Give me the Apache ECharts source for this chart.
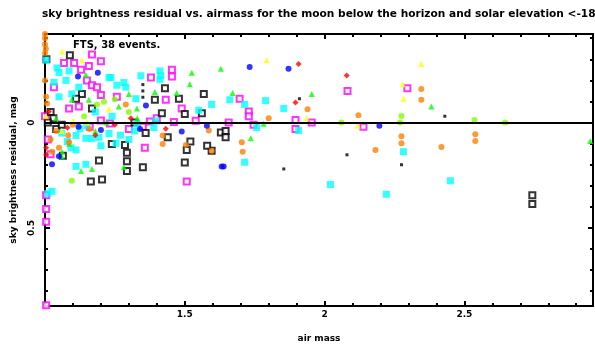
<!DOCTYPE html>
<html>
<head>
<meta charset="utf-8">
<script src="https://cdn.jsdelivr.net/npm/echarts@6/dist/echarts.min.js"></script>
<style>
html,body{margin:0;padding:0;background:#fff;}
#main{width:595px;height:348px;}
</style>
</head>
<body>
<div id="main"></div>
<script>
// tick positions and labels
var xMajor = [1.5, 2, 2.5];
var xMinor = [1.1, 1.2, 1.3, 1.4, 1.6, 1.7, 1.8, 1.9, 2.1, 2.2, 2.3, 2.4, 2.6, 2.7, 2.8, 2.9];
var yMajor = [0, 0.5];
var yMinor = [-0.4, -0.3, -0.2, -0.1, 0.1, 0.2, 0.3, 0.4, 0.6, 0.7, 0.8];

// airmass / residual (mag), one array per event colour
var magentaPts = [[1.454,-0.25],[1.454,-0.218],[1.432,-0.108],[1.489,-0.067],[1.539,-0.008],[1.461,-0.003],[1.657,0],[1.696,-0.113],[1.729,-0.053],[1.729,-0.03],[1.746,0.01],[1.896,-0.012],[1.954,0],[1.896,0.03],[2.082,-0.15],[2.296,-0.163],[2.139,0.02],[1.357,0.12],[1.507,0.28],[1.379,-0.214],[1.004,0.345],[1.004,0.41],[1.004,0.47],[1.004,0.867],[1.168,-0.323],[1.2,-0.291],[1.068,-0.282],[1.104,-0.282],[1.157,-0.268],[1.129,-0.25],[1.15,-0.2],[1.168,-0.177],[1.032,-0.168],[1.186,-0.168],[1.2,-0.131],[1.257,-0.122],[1.121,-0.076],[1.086,-0.067],[1.375,-0.005],[1.2,-0.01],[1.232,0.005],[1.0,-0.03],[1.01,0.08],[1.3,0.03],[1.35,0.02],[1.16,0.02],[1.02,0.15],[1.4,-0.02]];
var blackPts = [[1.429,-0.163],[1.479,-0.113],[1.568,-0.136],[1.393,-0.108],[1.418,-0.044],[1.5,-0.04],[1.561,-0.044],[1.629,0.047],[1.439,0.07],[1.507,0.13],[1.596,0.134],[1.646,0.04],[1.646,0.07],[1.5,0.189],[1.35,0.212],[1.293,0.23],[1.293,0.184],[1.293,0.143],[1.164,0.28],[1.204,0.27],[1.193,0.18],[1.239,0.102],[1.286,0.107],[1.089,-0.319],[1.132,-0.136],[1.111,-0.113],[1.168,-0.067],[2.743,0.345],[2.743,0.386],[1.064,0.157],[1.02,-0.05],[1.03,-0.02],[1.01,0.0],[1.04,0.03],[1.06,0.01],[1.005,-0.3],[1.36,0.05],[1.52,0.09],[1.58,0.11],[1.32,0.0]];
var blackDots = [[2.43,-0.03],[2.08,0.153],[2.275,0.2],[1.91,-0.113],[1.854,0.22],[1.35,-0.18],[1.35,-0.12],[1.35,-0.15]];
var cyanPts = [[1.411,-0.245],[1.411,-0.205],[1.389,0.024],[1.55,-0.058],[1.596,-0.086],[1.661,-0.108],[1.714,-0.086],[1.789,-0.104],[1.854,-0.067],[1.757,0.024],[1.907,0.038],[1.714,0.188],[2.021,0.294],[2.282,0.138],[2.45,0.276],[2.221,0.34],[1.282,-0.19],[1.343,-0.222],[1.414,-0.222],[1.289,-0.168],[1.325,-0.113],[1.329,0.006],[1.396,-0.008],[1.229,-0.214],[1.043,-0.259],[1.086,-0.245],[1.236,-0.213],[1.032,-0.191],[1.075,-0.2],[1.121,-0.168],[1.257,-0.177],[1.096,-0.136],[1.05,-0.122],[1.004,-0.296],[1.05,-0.237],[1.111,0.208],[1.146,0.198],[1.025,0.326],[1.01,0.336],[1.111,0.061],[1.146,0.075],[1.168,0.075],[1.193,0.07],[1.229,0.052],[1.093,0.12],[1.111,0.13],[1.254,0.098],[1.125,0.03],[1.15,0.015],[1.27,0.06],[1.3,0.08],[1.32,0.04],[1.2,0.11],[1.08,0.09],[1.18,-0.05],[1.24,-0.03],[1.06,0.05]];
var greenPts = [[1.525,-0.236],[1.629,-0.255],[1.518,-0.182],[1.471,-0.14],[1.393,-0.145],[1.671,-0.14],[1.954,-0.136],[1.782,0.006],[1.736,0.074],[2.382,-0.076],[2.95,0.088],[1.146,-0.227],[1.157,-0.108],[1.096,-0.108],[1.264,-0.076],[1.3,-0.136],[1.329,-0.067],[1.168,0.22],[1.129,0.23],[1.282,0.212],[1.061,0.138],[1.087,0.1],[1.22,0.0],[1.04,-0.02],[1.33,-0.02],[1.18,0.04],[1.06,0.16]];
var limePts = [[2.06,0],[2.275,-0.031],[2.27,0],[2.536,-0.012],[2.646,0],[1.211,-0.099],[1.186,-0.086],[1.096,0.276],[1.25,-0.11],[1.14,-0.03],[1.3,-0.05]];
var orangePts = [[2.121,-0.035],[2.346,-0.159],[2.346,-0.108],[2.275,0.065],[2.275,0.098],[2.539,0.056],[2.539,0.088],[2.182,0.13],[2.418,0.116],[1.939,-0.063],[1.8,-0.021],[1.704,0.093],[1.707,0.138],[1.586,0.038],[1.421,0.061],[1.421,0.102],[1.504,0.107],[1.289,-0.086],[1.004,-0.122],[1.007,-0.09],[1.0,-0.42],[1.0,-0.4],[1.0,-0.37],[1.003,-0.35],[1.0,-0.33],[1.0,-0.2],[1.086,0.093],[1.05,0.12],[1.025,0.138],[1.083,0.06],[1.04,0.04],[1.02,0.08],[1.16,0.03],[1.1,0.01],[1.596,0.134]];
var bluePts = [[1.732,-0.264],[1.871,-0.255],[2.196,0.015],[1.489,0.042],[1.579,0.015],[1.639,0.208],[1.632,0.208],[1.189,-0.236],[1.118,-0.218],[1.361,-0.081],[1.025,0.198],[1.05,0.16],[1.12,0.02],[1.2,0.035],[1.34,0.03]];
var yellowPts = [[2.346,-0.278],[2.279,-0.182],[2.282,-0.113],[2.118,0.015],[1.793,-0.296],[1.936,-0.021],[1.061,-0.337],[1.132,-0.296],[1.229,-0.063],[1.004,-0.03],[1.15,0.0],[1.1,-0.01],[1.06,0.04]];
var redPts = [[2.079,-0.223],[1.907,-0.278],[1.896,-0.095],[1.432,0.029],[1.307,-0.021],[1.014,-0.053],[1.004,0.153],[1.004,0.12],[1.08,0.025],[1.18,0.06],[1.25,0.01]];

var fnt = 'DejaVu Sans';
var xMin = 1, xMax = 2.96, yMin = -0.42, yMax = 0.87;

function hollow(name, pts, col, size) {
    return {
        name: name, type: 'scatter', data: pts, symbol: 'rect', symbolSize: size,
        itemStyle: { color: '#fff', borderColor: col, borderWidth: 2 }, silent: true
    };
}
function filled(name, pts, col, sym, size) {
    return {
        name: name, type: 'scatter', data: pts, symbol: sym, symbolSize: size,
        itemStyle: { color: col }, silent: true
    };
}
// one frame side: ticks drawn at given values, labels optional
function side(pos, min, max, ticks, len, labels, extra) {
    var ax = {
        type: 'value', min: min, max: max, position: pos,
        inverse: (pos == 'left' || pos == 'right'),
        axisLine: { show: true, onZero: false, lineStyle: { color: '#000', width: 2 } },
        axisTick: { show: true, inside: true, length: len, customValues: ticks,
            lineStyle: { color: '#000', width: 2 } },
        axisLabel: labels ? labels : { show: false },
        splitLine: { show: false }
    };
    return Object.assign(ax, extra || {});
}
var lblFont = { fontFamily: fnt, fontSize: 9, fontWeight: 'bold', color: '#000' };

var chart = echarts.init(document.getElementById('main'));
var option = {
    animation: false,
    backgroundColor: '#fff',
    title: {
        text: 'sky brightness residual vs. airmass for the moon below the horizon and solar elevation <-18',
        left: 37, top: 4,
        textStyle: { fontFamily: fnt, fontSize: 10.6, fontWeight: 'bold', color: '#000' }
    },
    graphic: [{
        type: 'text', left: 73, top: 40,
        style: { text: 'FTS, 38 events.', fontFamily: fnt, fontSize: 10, fontWeight: 'bold', fill: '#000' }
    }],
    grid: { left: 45, right: 2, top: 34, bottom: 31 },
    xAxis: [
        side('bottom', xMin, xMax, xMajor, 5,
            Object.assign({ customValues: xMajor, margin: 4 }, lblFont),
            { name: 'air mass', nameLocation: 'middle', nameGap: 28, nameTextStyle: lblFont }),
        side('bottom', xMin, xMax, xMinor, 3),
        side('top', xMin, xMax, xMajor, 5),
        side('top', xMin, xMax, xMinor, 3)
    ],
    yAxis: [
        side('left', yMin, yMax, yMajor, 5,
            Object.assign({ customValues: yMajor, rotate: 90, margin: 9 }, lblFont),
            { name: 'sky brightness residual, mag', nameLocation: 'middle', nameGap: 27, nameTextStyle: lblFont }),
        side('left', yMin, yMax, yMinor, 3),
        side('right', yMin, yMax, yMajor, 5),
        side('right', yMin, yMax, yMinor, 3)
    ],
    series: [
        {
            type: 'line', data: [], silent: true,
            markLine: {
                silent: true, symbol: 'none', label: { show: false },
                lineStyle: { color: '#000', width: 2, type: 'solid' },
                data: [{ yAxis: 0 }]
            }
        },
        hollow('magenta', magentaPts, '#ff00ff', 6),
        hollow('black', blackPts, '#000', 6),
        filled('blackDots', blackDots, '#000', 'rect', 3),
        filled('cyan', cyanPts, '#00ffff', 'rect', 7),
        filled('green', greenPts, '#00ff00', 'triangle', 6),
        filled('lime', limePts, '#80ff00', 'circle', 6),
        filled('orange', orangePts, '#ff8000', 'circle', 6),
        filled('blue', bluePts, '#0000ff', 'circle', 6),
        filled('yellow', yellowPts, '#ffff00', 'triangle', 6),
        filled('red', redPts, '#ff0000', 'diamond', 6)
    ]
};
chart.setOption(option);
</script>
</body>
</html>
